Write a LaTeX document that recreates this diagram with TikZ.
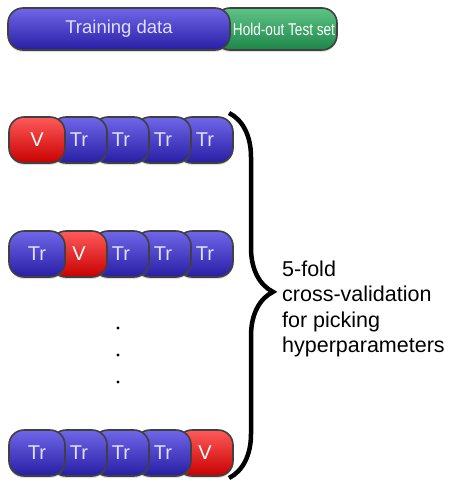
\documentclass[tikz,border=0pt]{standalone}
\usepackage{fontspec}
\setmainfont{Liberation Sans}
\newfontfamily\narrowfont[FakeStretch=0.8]{Liberation Sans}
\usetikzlibrary{decorations.pathreplacing,shadows}
\definecolor{trtop}{RGB}{112,102,232}
\definecolor{trmid}{RGB}{60,46,202}
\definecolor{trbot}{RGB}{40,30,165}
\definecolor{vtop}{RGB}{255,90,90}
\definecolor{vmid}{RGB}{240,0,0}
\definecolor{vbot}{RGB}{200,0,0}
\definecolor{ttop}{RGB}{95,195,135}
\definecolor{tmid}{RGB}{42,162,92}
\definecolor{tbot}{RGB}{28,135,72}
\definecolor{trtext}{RGB}{225,222,255}
\tikzset{
  seg/.style={draw=black!75, line width=1.6pt, rounded corners=15pt, inner sep=0pt,
    minimum height=46pt, minimum width=56pt, font=\fontsize{20}{20}\selectfont,
    drop shadow={opacity=0.25, shadow xshift=0pt, shadow yshift=-2pt}},
  trseg/.style={seg, top color=trtop, middle color=trmid, bottom color=trbot, text=trtext},
  vseg/.style={seg, top color=vtop, middle color=vmid, bottom color=vbot, text=white},
  testseg/.style={seg, top color=ttop, middle color=tmid, bottom color=tbot, text=white},
}
\begin{document}
\begin{tikzpicture}[x=1pt,y=-1pt]
  \useasboundingbox (0,0) rectangle (448,485);
  % jeu complet
  \node[testseg, minimum width=122pt, minimum height=42pt] (test) at (276,29) {};
  \node[trseg, minimum width=222pt, minimum height=42pt, font=\fontsize{18.5}{18.5}\selectfont] (train) at (119,29) {Training data\hspace{18pt}};
  \node[inner sep=0pt, text=white, font=\narrowfont\fontsize{17}{17}\selectfont] (testlabel) at (284,29) {Hold-out Test set};
  % les plis, de droite a gauche
  \foreach \row/\y/\v in {a/140/0,b/254/1,e/453/4}{
    \foreach \i in {4,3,2,1,0}{
      \ifnum\i=\v
        \node[vseg] (\row\i) at (37+42*\i,\y) {V};
      \else
        \node[trseg] (\row\i) at (37+42*\i,\y) {Tr};
      \fi
    }
  }
  \foreach \j/\y in {1/328,2/355,3/382}
    \node[circle, fill=black, inner sep=1.2pt] (dot\j) at (118,\y) {};
  \coordinate (bracetop) at (229,113);
  \coordinate (bracebot) at (229,478);
  \draw[line width=4.5pt, decorate, decoration={brace, amplitude=44pt, aspect=0.49}] (bracetop) -- (bracebot);
  \node[anchor=west, align=left, inner sep=0pt, font=\fontsize{21.5}{25.5}\selectfont] (cvtext) at (282,309)
    {5-fold\\cross-validation\\for picking\\hyperparameters};
\end{tikzpicture}
\end{document}
